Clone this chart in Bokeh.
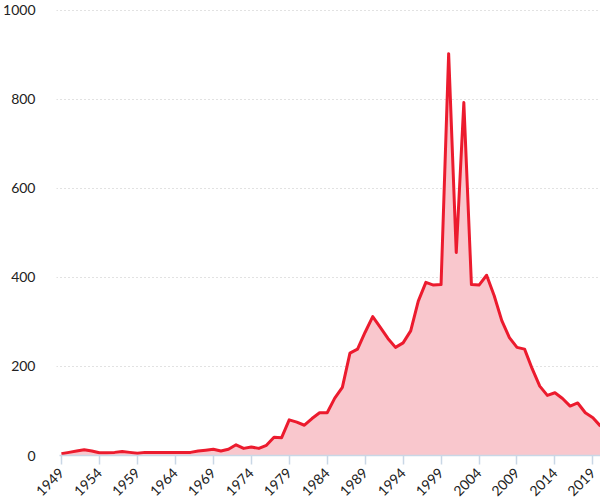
from bokeh.plotting import figure
from bokeh.models import FixedTicker, Range1d
from bokeh.embed import file_html
from bokeh.resources import INLINE

years = list(range(1949, 2021))
counts = [4, 7, 10, 13, 10, 6, 6, 7, 9, 7,
          5, 7, 7, 7, 7, 7, 7, 7, 10, 12,
          14, 10, 14, 24, 16, 19, 16, 23, 41, 40,
          80, 75, 68, 83, 96, 96, 129, 153, 230, 239,
          277, 312, 288, 263, 243, 253, 280, 347, 389, 383,
          384, 903, 456, 793, 384, 383, 405, 359, 303, 265,
          243, 239, 195, 156, 135, 141, 128, 111, 118, 96,
          85, 66]
x_ticks = list(range(1949, 2020, 5))
y_ticks = [0, 200, 400, 600, 800, 1000]

FONT = "Lato"
RED = "#ec1b2e"
FILL = "#f9c7cd"
AXIS = "#c9d7e6"

p = figure(width=600, height=503, output_backend="svg", toolbar_location=None,
           x_range=Range1d(1948.35, 2020), y_range=Range1d(0, 1022.4),
           min_border_left=53, min_border_right=0, min_border_top=0,
           min_border_bottom=46)
p.outline_line_color = None
p.background_fill_color = "white"
p.border_fill_color = "white"

p.varea(x=years, y1=0, y2=counts, fill_color=FILL, fill_alpha=1.0)
p.line(x=years, y=counts, line_color=RED, line_width=3, line_join="round")

p.xgrid.grid_line_color = None
p.ygrid.ticker = FixedTicker(ticks=y_ticks)
p.ygrid.grid_line_color = "#c4c4c4"
p.ygrid.grid_line_dash = "1 3"
p.ygrid.grid_line_width = 1

p.xaxis.ticker = FixedTicker(ticks=x_ticks)
p.xaxis.bounds = (1948.75, 2020)
p.xaxis.axis_line_color = AXIS
p.xaxis.axis_line_width = 1.5
p.xaxis.major_tick_line_color = AXIS
p.xaxis.major_tick_line_width = 1.5
p.xaxis.major_tick_out = 9
p.xaxis.major_tick_in = 0
p.xaxis.minor_tick_line_color = None
p.xaxis.major_label_orientation = 0.785398
p.xaxis.major_label_standoff = 6
p.xaxis.major_label_text_font = FONT
p.xaxis.major_label_text_font_size = "14px"
p.xaxis.major_label_text_color = "#222222"

p.yaxis.ticker = FixedTicker(ticks=y_ticks)
p.yaxis.axis_line_color = None
p.yaxis.major_tick_line_color = None
p.yaxis.minor_tick_line_color = None
p.yaxis.major_label_standoff = 15
p.yaxis.major_label_text_font = FONT
p.yaxis.major_label_text_font_size = "14px"
p.yaxis.major_label_text_color = "#222222"

open("out.html", "w").write(file_html(p, INLINE))
